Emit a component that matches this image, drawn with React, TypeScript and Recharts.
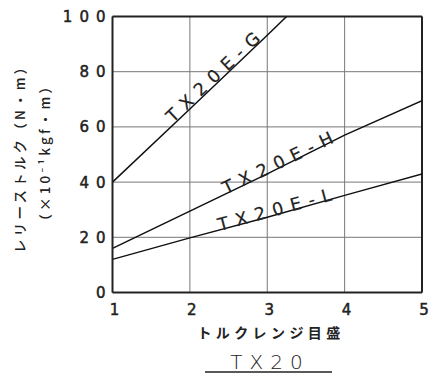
import React from 'react';
import { LineChart, Line, XAxis, YAxis, CartesianGrid, ReferenceLine, ReferenceDot } from 'recharts';

const xTicks = [1, 2, 3, 4, 5];
const yTicks = [0, 20, 40, 60, 80, 100];

const gX = [1, 2, 3, 3.25];
const gY = [40, 66.5, 93.2, 100];
const hX = [1, 2, 3, 4, 5];
const hY = [16, 29.5, 43, 57, 69.5];
const lX = [1, 2, 3, 4, 5];
const lY = [12, 19.8, 27.3, 35.2, 42.9];

const seriesNames = ['TX20E-G', 'TX20E-H', 'TX20E-L'];
const xTitle = 'トルクレンジ目盛';
const yTitle1 = 'レリーストルク（N・m）';
const yTitle2 = '（×10⁻¹kgf・m）';
const chartTitle = 'TX20';

const toData = (xs: number[], ys: number[]) => xs.map((x, i) => ({ x, y: ys[i] }));
const gData = toData(gX, gY);
const hData = toData(hX, hY);
const lData = toData(lX, lY);

const interp = (xs: number[], ys: number[], x: number) => {
  for (let i = 0; i < xs.length - 1; i++) {
    if (x >= xs[i] && x <= xs[i + 1]) {
      const t = (x - xs[i]) / (xs[i + 1] - xs[i]);
      return ys[i] + t * (ys[i + 1] - ys[i]);
    }
  }
  return ys[ys.length - 1];
};

const labelCfg = [
  { x: 2.36, y: interp(gX, gY, 2.36), angle: -43.2, dy: -1 },
  { x: 3.16, y: interp(hX, hY, 3.16), angle: -25.6, dy: 1 },
  { x: 3.11, y: interp(lX, lY, 3.11), angle: -15.2, dy: 1 },
];

const LATIN = '"DejaVu Sans", sans-serif';
const CJK = '"Noto Sans CJK JP", "Noto Sans", sans-serif';
const INK = '#222';

const YTick = (props: any) => {
  const { x, y, payload } = props;
  return (
    <text x={x + 8} y={y} dy={5.5} textAnchor="end" fontFamily={LATIN} fontSize={15} fill={INK} stroke={INK} strokeWidth={0.5} letterSpacing={7}>
      {payload.value}
    </text>
  );
};

const XTick = (props: any) => {
  const { x, y, payload } = props;
  return (
    <text x={x + 2} y={y} dy={14} textAnchor="middle" fontFamily={LATIN} fontSize={15} fill={INK} stroke={INK} strokeWidth={0.5}>
      {payload.value}
    </text>
  );
};

const makeLabel = (text: string, angle: number, dy: number) => (props: any) => {
  const vb = props.viewBox || {};
  const cx = (vb.x || 0) + (vb.width || 0) / 2;
  const cy = (vb.y || 0) + (vb.height || 0) / 2;
  return (
    <text
      x={cx}
      y={cy}
      dx={4}
      dy={dy}
      textAnchor="middle"
      transform={`rotate(${angle} ${cx} ${cy})`}
      fontFamily={LATIN}
      fontSize={17.5}
      fill={INK}
      stroke={INK}
      strokeWidth={0.2}
      letterSpacing={7.5}
    >
      {text}
    </text>
  );
};

export default function App() {
  return (
    <div style={{ position: 'absolute', left: 0, top: 0, width: 434, height: 379, background: '#fff' }}>
      <LineChart width={434} height={379} margin={{ top: 16.5, right: 12, bottom: 56.5, left: 52.5 }}>
        <CartesianGrid stroke="#777" strokeWidth={1} />
        <XAxis
          type="number"
          dataKey="x"
          domain={[1, 5]}
          ticks={xTicks}
          allowDataOverflow
          height={30}
          axisLine={{ stroke: INK, strokeWidth: 2 }}
          tickLine={false}
          tick={<XTick />}
        />
        <YAxis
          type="number"
          dataKey="y"
          domain={[0, 100]}
          ticks={yTicks}
          allowDataOverflow
          width={60}
          axisLine={{ stroke: INK, strokeWidth: 2 }}
          tickLine={false}
          tick={<YTick />}
        />
        <ReferenceLine y={100} stroke={INK} strokeWidth={2} />
        <ReferenceLine x={5} stroke={INK} strokeWidth={2} />
        <Line data={gData} dataKey="y" stroke="#111" strokeWidth={1.5} dot={false} isAnimationActive={false} />
        <Line data={hData} dataKey="y" stroke="#111" strokeWidth={1.5} dot={false} isAnimationActive={false} />
        <Line data={lData} dataKey="y" stroke="#111" strokeWidth={1.5} dot={false} isAnimationActive={false} />
        {seriesNames.map((name, i) => (
          <ReferenceDot
            key={name}
            x={labelCfg[i].x}
            y={labelCfg[i].y}
            r={0}
            fill="none"
            stroke="none"
            label={makeLabel(name, labelCfg[i].angle, labelCfg[i].dy)}
          />
        ))}
      </LineChart>
      <svg width={434} height={379} style={{ position: 'absolute', left: 0, top: 0, pointerEvents: 'none' }}>
        <text
          x={20}
          y={157}
          dx={1.75}
          dy={5}
          textAnchor="middle"
          transform="rotate(-90 20 157)"
          fontFamily={CJK}
          fontSize={13.5}
          fontWeight={500}
          fill={INK}
          letterSpacing={3.2}
        >
          {yTitle1}
        </text>
        <text
          x={45}
          y={154}
          dx={1.75}
          dy={5}
          textAnchor="middle"
          transform="rotate(-90 45 154)"
          fontFamily={CJK}
          fontSize={13.5}
          fontWeight={500}
          fill={INK}
          letterSpacing={3.2}
        >
          {yTitle2}
        </text>
        <text x={271} y={333} dy={5} textAnchor="middle" fontFamily={CJK} fontSize={14} fontWeight={700} fill={INK} letterSpacing={4.4}>
          {xTitle}
        </text>
        <text x={270} y={362} dy={7} textAnchor="middle" fontFamily={LATIN} fontSize={20} fontWeight={200} fill={INK} letterSpacing={7}>
          {chartTitle}
        </text>
        <line x1={205} y1={372} x2={332} y2={372} stroke={INK} strokeWidth={1.5} />
      </svg>
    </div>
  );
}
